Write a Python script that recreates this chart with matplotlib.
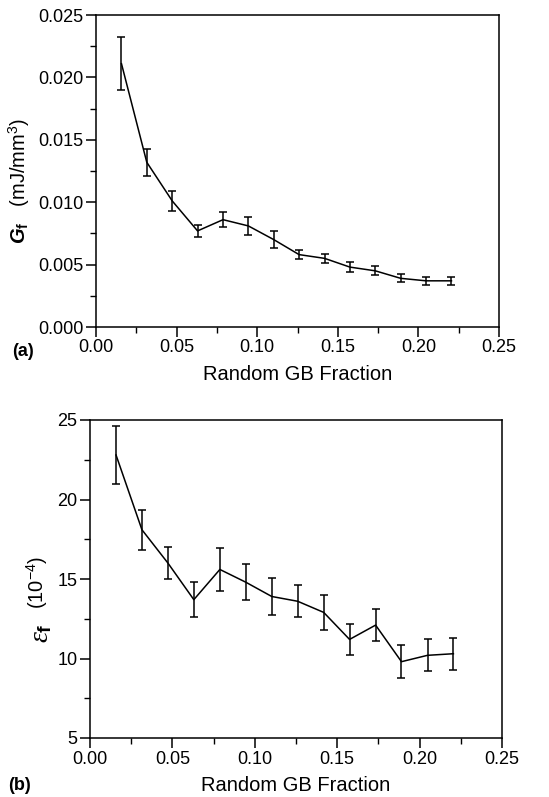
import matplotlib
matplotlib.use('Agg')
import matplotlib.pyplot as plt
from matplotlib.ticker import MultipleLocator

plt.rcParams['font.family'] = ['Liberation Sans', 'DejaVu Sans']
plt.rcParams['mathtext.fontset'] = 'custom'
plt.rcParams['mathtext.rm'] = 'Liberation Sans'
plt.rcParams['mathtext.it'] = 'Liberation Serif:italic'
plt.rcParams['mathtext.bf'] = 'Liberation Sans:bold'
plt.rcParams['mathtext.bfit'] = 'Liberation Sans:italic:bold'

# random GB fraction
frac = [0.0158, 0.0315, 0.0473, 0.0630, 0.0788, 0.0945, 0.1103,
        0.1260, 0.1418, 0.1575, 0.1733, 0.1890, 0.2048, 0.2205]

# (a) fracture energy G_f (mJ/mm^3)
gf = [0.0211, 0.0132, 0.0101, 0.0077, 0.0086, 0.0081, 0.0070,
      0.0058, 0.0055, 0.0048, 0.0045, 0.0039, 0.0037, 0.0037]
gf_err = [0.0021, 0.0011, 0.0008, 0.0005, 0.0006, 0.0007, 0.0007,
          0.00035, 0.00036, 0.00037, 0.00036, 0.00032, 0.00032, 0.00032]

# (b) fracture strain eps_f (1e-4)
ef = [22.8, 18.1, 16.0, 13.7, 15.6, 14.8, 13.9,
      13.6, 12.9, 11.2, 12.1, 9.8, 10.2, 10.3]
ef_err = [1.85, 1.26, 1.0, 1.08, 1.35, 1.12, 1.17,
          1.0, 1.12, 0.95, 1.0, 1.05, 1.0, 1.0]

fig = plt.figure(figsize=(5.49, 7.97), dpi=100)
W, H = 549, 797
ax1 = fig.add_axes([96 / W, 1 - 327 / H, 403 / W, 312 / H])
ax2 = fig.add_axes([90 / W, 1 - 738 / H, 412 / W, 318 / H])


def style(ax):
    for s in ax.spines.values():
        s.set_linewidth(1.1)
    ax.set_xlim(0, 0.25)
    ax.xaxis.set_major_locator(MultipleLocator(0.05))
    ax.xaxis.set_minor_locator(MultipleLocator(0.025))
    ax.tick_params(which='major', direction='out', length=7, width=1.1,
                   labelsize=13, pad=2)
    ax.tick_params(which='minor', direction='out', length=4, width=1.0)
    ax.xaxis.set_major_formatter(plt.FuncFormatter(lambda v, p: f'{v:.2f}'))
    ax.set_xlabel('Random GB Fraction', fontsize=14.5, labelpad=6)


ax1.errorbar(frac, gf, yerr=gf_err, color='black', lw=1.1, capsize=2.8,
             elinewidth=1.1, capthick=1.1)
style(ax1)
ax1.set_ylim(0, 0.025)
ax1.yaxis.set_major_locator(MultipleLocator(0.005))
ax1.yaxis.set_minor_locator(MultipleLocator(0.0025))
ax1.yaxis.set_major_formatter(plt.FuncFormatter(lambda v, p: f'{v:.3f}'))
ax1.set_ylabel(r'$\mathbfit{G}_{\mathbf{f}}$   (mJ/mm$^{3}$)', fontsize=14.5)
ax1.yaxis.set_label_coords(-0.159, 0.468)
fig.text(12 / W, 1 - 352 / H, '(a)', fontsize=13, fontweight='bold',
         va='center', ha='left')

ax2.errorbar(frac, ef, yerr=ef_err, color='black', lw=1.1, capsize=2.8,
             elinewidth=1.1, capthick=1.1)
style(ax2)
ax2.set_ylim(5, 25)
ax2.yaxis.set_major_locator(MultipleLocator(5))
ax2.yaxis.set_minor_locator(MultipleLocator(2.5))
# y label of (b) in two parts: the symbol is drawn larger
fig.text(41 / W, 1 - 633 / H, r'$\varepsilon_{\mathbf{f}}$', fontsize=20,
         rotation=90, ha='center', va='center')
fig.text(37 / W, 1 - 582 / H, r'(10$^{-4}$)', fontsize=14.5,
         rotation=90, ha='center', va='center')
fig.text(8 / W, 1 - 785 / H, '(b)', fontsize=13, fontweight='bold',
         va='center', ha='left')

fig.savefig('out.png', dpi=100)
